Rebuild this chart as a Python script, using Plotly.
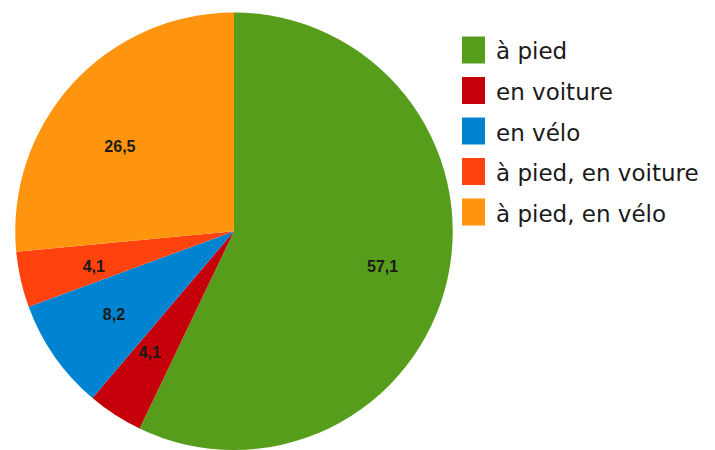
import plotly.graph_objects as go

labels = ["à pied", "en voiture", "en vélo", "à pied, en voiture", "à pied, en vélo"]
values = [57.1, 4.1, 8.2, 4.1, 26.5]
colors = ["#579d1c", "#c5000b", "#0084d1", "#ff420e", "#ff950e"]
value_text = [f"{v:.1f}".replace(".", ",") for v in values]

# page body has an 8px margin: figure sized so it fits the 715x450 window
OFF = 8
W, H = 715 - OFF, 450 - OFF


def px(x):  # reference-image x pixel -> paper fraction
    return (x - OFF) / W


def py(y):  # reference-image y pixel -> paper fraction
    return 1 - (y - OFF) / H


CX, CY, R = 234, 232.5, 220       # pie centre / radius in reference pixels
LX, LY, RL = 236, 237.5, 130      # centre / radius of the (invisible) label ring

pie = go.Pie(
    labels=labels,
    values=values,
    textinfo="none",
    marker=dict(colors=colors, line=dict(width=0)),
    sort=False,
    direction="clockwise",
    rotation=0,
    showlegend=False,
    hoverinfo="label+percent",
    domain=dict(x=[px(CX - R), px(CX + R)], y=[max(0, py(CY + R)), py(CY - R)]),
)

label_pie = go.Pie(
    labels=labels,
    values=values,
    text=value_text,
    textinfo="text",
    textposition="outside",
    textfont=dict(family="Liberation Sans", size=16, color="#1a1a1a", weight="bold"),
    marker=dict(colors=["rgba(0,0,0,0)"] * len(values), line=dict(width=0)),
    sort=False,
    direction="clockwise",
    rotation=0,
    showlegend=False,
    hoverinfo="skip",
    domain=dict(x=[px(LX - RL), px(LX + RL)], y=[py(LY + RL), py(LY - RL)]),
)

fig = go.Figure([pie, label_pie])

# legend built from the categories
shapes = []
annotations = []
for i, (lab, col) in enumerate(zip(labels, colors)):
    cy = 50 + i * 40.5
    shapes.append(dict(type="rect", xref="paper", yref="paper",
                       x0=px(462), x1=px(485),
                       y0=py(cy - 13.5), y1=py(cy + 13.5),
                       fillcolor=col, line=dict(width=0)))
    annotations.append(dict(xref="paper", yref="paper", x=px(494), y=py(cy + 1.5),
                            xanchor="left", yanchor="middle", showarrow=False,
                            text=lab, font=dict(family="DejaVu Sans", size=23, color="#1a1a1a")))

fig.update_layout(
    width=W, height=H,
    margin=dict(l=0, r=0, t=0, b=0),
    paper_bgcolor="white", plot_bgcolor="white",
    shapes=shapes, annotations=annotations,
)

fig.write_html("out.html")
